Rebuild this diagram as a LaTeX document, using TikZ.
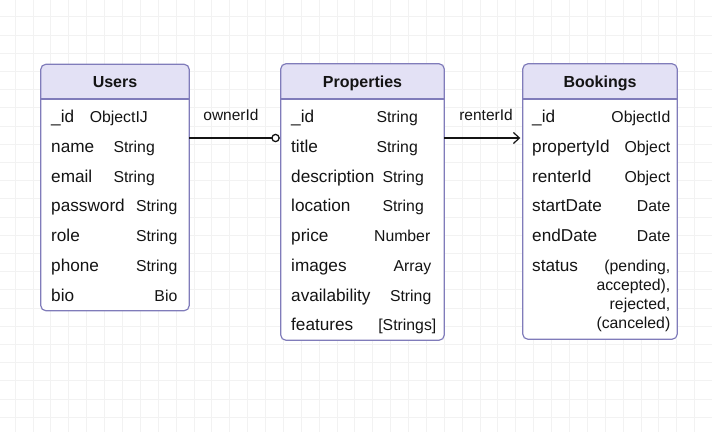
\documentclass[tikz,border=0pt]{standalone}
\usepackage{fontspec}
\setmainfont{Liberation Sans}
\usetikzlibrary{arrows.meta}
\definecolor{tblborder}{RGB}{128,124,186}
\definecolor{tblhead}{RGB}{227,225,245}
\definecolor{gridgray}{RGB}{242,242,242}
\definecolor{ink}{RGB}{20,20,20}

\tikzset{
  tbl/.style={fill=white, inner sep=0pt},
  tblline/.style={draw=tblborder, line width=1.2pt},
  hdr/.style={font=\fontsize{16}{19}\selectfont\bfseries, text=ink, anchor=base, inner sep=0pt},
  fld/.style={font=\fontsize{17.2}{20}\selectfont, text=ink, anchor=base west, inner sep=0pt},
  typ/.style={font=\fontsize{15.8}{19}\selectfont, text=ink, anchor=base east, inner sep=0pt},
  rel/.style={font=\fontsize{15.5}{19}\selectfont, text=ink, anchor=base, inner sep=0pt},
  conn/.style={draw=ink, line width=1.2pt}
}

\begin{document}
\begin{tikzpicture}[x=1pt,y=1pt,yscale=-1]
\useasboundingbox (0,0) rectangle (712,432);
% background grid
\foreach \gx in {15,32.88,...,712} \draw[gridgray, line width=0.6pt] (\gx,0) -- (\gx,432);
\foreach \gy in {-1.5,16.7,...,432} \draw[gridgray, line width=0.6pt] (0,\gy) -- (712,\gy);

% tables
\node[tbl, minimum width=148pt, minimum height=246pt] (users) at (115,187.5) {};
\node[tbl, minimum width=163pt, minimum height=276pt] (properties) at (362.5,202) {};
\node[tbl, minimum width=154pt, minimum height=275pt] (bookings) at (600,201.5) {};

% headers
\fill[tblhead, rounded corners=5pt] (users.north west) rectangle (users.east |- 0,99);
\fill[tblhead] (users.west |- 0,90) rectangle (users.east |- 0,99);
\fill[tblhead, rounded corners=5pt] (properties.north west) rectangle (properties.east |- 0,99);
\fill[tblhead] (properties.west |- 0,90) rectangle (properties.east |- 0,99);
\fill[tblhead, rounded corners=5pt] (bookings.north west) rectangle (bookings.east |- 0,99);
\fill[tblhead] (bookings.west |- 0,90) rectangle (bookings.east |- 0,99);

% outlines
\draw[tblline, rounded corners=5pt] (users.south west) rectangle (users.north east);
\draw[tblline] (users.west |- 0,99) -- (users.east |- 0,99);
\draw[tblline, rounded corners=5pt] (properties.south west) rectangle (properties.north east);
\draw[tblline] (properties.west |- 0,99) -- (properties.east |- 0,99);
\draw[tblline, rounded corners=5pt] (bookings.south west) rectangle (bookings.north east);
\draw[tblline] (bookings.west |- 0,99) -- (bookings.east |- 0,99);

\node[hdr] (users-hdr) at (115,87.7) {Users};
\node[hdr] (properties-hdr) at (362.5,87.7) {Properties};
\node[hdr] (bookings-hdr) at (600,87.7) {Bookings};

% Users
\node[fld] (u-id) at (51,122) {\_id};
\node[typ] (u-id-t) at (148,122) {ObjectIJ};
\node[fld] (u-name) at (51,152) {name};
\node[typ] (u-name-t) at (155,152) {String};
\node[fld] (u-email) at (51,182) {email};
\node[typ] (u-email-t) at (155,182) {String};
\node[fld] (u-pass) at (51,211.5) {password};
\node[typ] (u-pass-t) at (177.5,211.5) {String};
\node[fld] (u-role) at (51,241) {role};
\node[typ] (u-role-t) at (177.5,241) {String};
\node[fld] (u-phone) at (51,271) {phone};
\node[typ] (u-phone-t) at (177.5,271) {String};
\node[fld] (u-bio) at (51,301) {bio};
\node[typ] (u-bio-t) at (177.5,301) {Bio};

% Properties
\node[fld] (p-id) at (291,122) {\_id};
\node[typ] (p-id-t) at (418,122) {String};
\node[fld] (p-title) at (291,152) {title};
\node[typ] (p-title-t) at (418,152) {String};
\node[fld] (p-desc) at (291,182) {description};
\node[typ] (p-desc-t) at (424,182) {String};
\node[fld] (p-loc) at (291,211.5) {location};
\node[typ] (p-loc-t) at (424,211.5) {String};
\node[fld] (p-price) at (291,241) {price};
\node[typ] (p-price-t) at (430.5,241) {Number};
\node[fld] (p-img) at (291,271) {images};
\node[typ] (p-img-t) at (431.5,271) {Array};
\node[fld] (p-avail) at (291,301) {availability};
\node[typ] (p-avail-t) at (431.5,301) {String};
\node[fld] (p-feat) at (291,330.5) {features};
\node[typ] (p-feat-t) at (436.5,330.5) {[Strings]};

% Bookings
\node[fld] (b-id) at (532,122) {\_id};
\node[typ] (b-id-t) at (670.5,122) {ObjectId};
\node[fld] (b-prop) at (532,152) {propertyId};
\node[typ] (b-prop-t) at (670.5,152) {Object};
\node[fld] (b-renter) at (532,182) {renterId};
\node[typ] (b-renter-t) at (670.5,182) {Object};
\node[fld] (b-start) at (532,211.5) {startDate};
\node[typ] (b-start-t) at (670.5,211.5) {Date};
\node[fld] (b-end) at (532,241) {endDate};
\node[typ] (b-end-t) at (670.5,241) {Date};
\node[fld] (b-status) at (532,271) {status};
\node[typ] (b-status-t1) at (670.5,271) {(pending,};
\node[typ] (b-status-t2) at (670.5,290.3) {accepted),};
\node[typ] (b-status-t3) at (670.5,309.6) {rejected,};
\node[typ] (b-status-t4) at (670.5,328.9) {(canceled)};

% relations
\draw[conn, -{Circle[open, length=8.5pt, width=8.5pt, line width=1.3pt]}, shorten >=1pt] (users.east |- 0,138) -- (properties.west |- 0,138);
\node[rel] (owner-lbl) at (231,120.5) {ownerId};
\draw[conn, -{Straight Barb[length=6pt, width=11pt]}, shorten >=2.5pt] (properties.east |- 0,138) -- (bookings.west |- 0,138);
\node[rel] (renter-lbl) at (486,120.5) {renterId};
\end{tikzpicture}
\end{document}
